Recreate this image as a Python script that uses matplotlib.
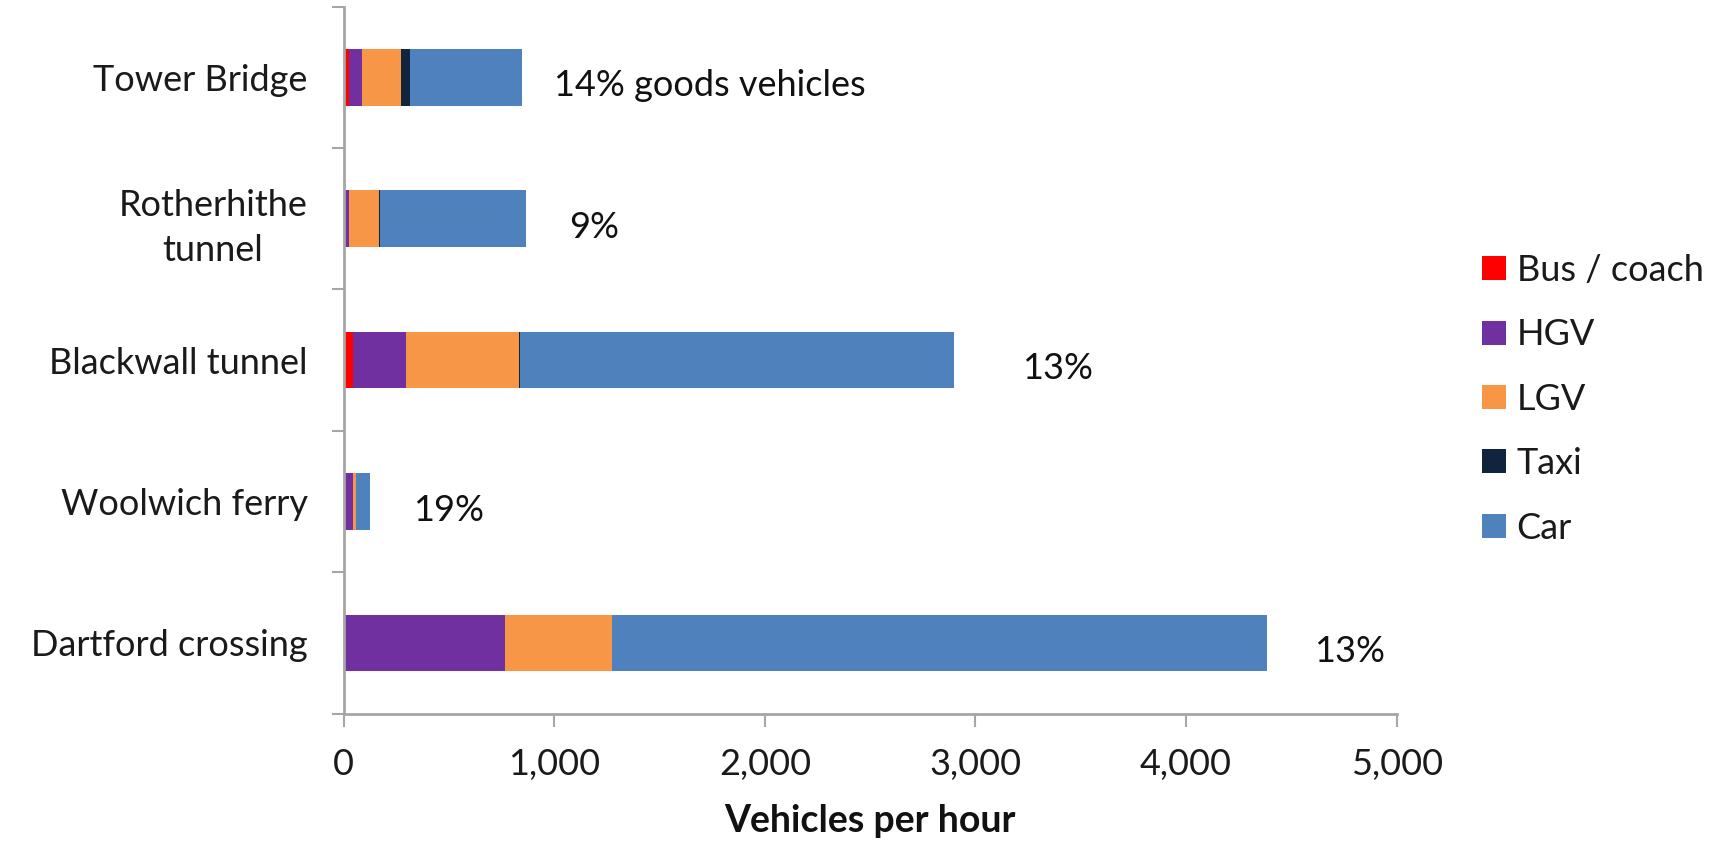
import matplotlib.pyplot as plt
from matplotlib.patches import Patch
import numpy as np

plt.rcParams['font.family'] = ['Lato', 'DejaVu Sans']

# data (vehicles per hour)
crossings = ["Tower Bridge", "Rotherhithe\ntunnel", "Blackwall tunnel", "Woolwich ferry", "Dartford crossing"]
bus = [23, 2, 42, 0, 8]
hgv = [66, 21, 256, 42, 756]
lgv = [181, 144, 535, 17, 512]
taxi = [47, 6, 5, 0, 0]
car = [532, 694, 2060, 68, 3107]
goods_labels = ["14% goods vehicles", "9%", "13%", "19%", "13%"]
label_x = [1000, 1070, 3220, 330, 4610]

series = [("Bus / coach", bus, "#FF0000"),
          ("HGV", hgv, "#7030A0"),
          ("LGV", lgv, "#F79646"),
          ("Taxi", taxi, "#10243E"),
          ("Car", car, "#4F81BD")]

fig = plt.figure(figsize=(17.27, 8.44), dpi=100)
ax = fig.add_axes([0.199, 0.1544, 0.6097, 0.8377])

y = np.arange(len(crossings))
left = np.zeros(len(crossings))
for name, vals, col in series:
    ax.barh(y, vals, left=left, height=0.4, color=col, edgecolor="none")
    left += np.array(vals)

# percentage labels sit a little below the bar centre in the original
for yi, txt, xi in zip(y, goods_labels, label_x):
    ax.text(xi, yi + 0.06, txt, va="center", ha="left", fontsize=26, color="#111111")

ax.set_xlim(0, 5000)
ax.set_ylim(len(crossings) - 0.5, -0.5)
ax.set_xticks([0, 1000, 2000, 3000, 4000, 5000])
ax.set_xticklabels(["0", "1,000", "2,000", "3,000", "4,000", "5,000"])
ax.set_yticks(y)
ax.set_yticklabels(crossings)
ax.set_yticks(np.arange(-0.5, len(crossings)), minor=True)
for lab in ax.get_yticklabels():
    lab.set_multialignment("center")
    lab.set_linespacing(1.45)

ax.tick_params(axis="y", which="major", length=0, pad=26, labelsize=26, labelcolor="#1a1a1a")
ax.tick_params(axis="y", which="minor", length=9, width=1.5, color="#A6A6A6", direction="out")
ax.tick_params(axis="x", length=9, width=1.5, color="#A6A6A6", pad=16, labelsize=26, labelcolor="#1a1a1a")

for s in ["top", "right"]:
    ax.spines[s].set_visible(False)
for s in ["left", "bottom"]:
    ax.spines[s].set_color("#A6A6A6")
    ax.spines[s].set_linewidth(2)

ax.set_xlabel("Vehicles per hour", fontsize=27, fontweight="bold", labelpad=16, color="#111111")

handles = [Patch(facecolor=c, edgecolor="none", label=n) for n, v, c in series]
fig.legend(handles=handles, loc="center left", bbox_to_anchor=(0.8395, 0.527), frameon=False,
           fontsize=26, handlelength=0.65, handleheight=0.65, handletextpad=0.3,
           labelspacing=0.87, labelcolor="#1a1a1a")

fig.savefig("out.png", dpi=100)
